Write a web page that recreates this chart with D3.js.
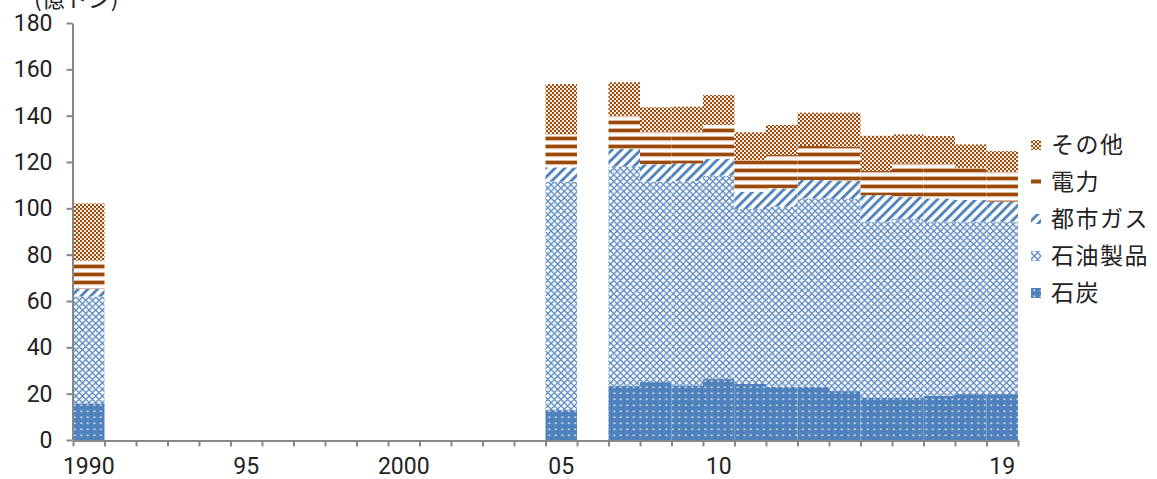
<!DOCTYPE html>
<html><head><meta charset="utf-8">
<script src="https://cdn.jsdelivr.net/npm/d3@7/dist/d3.min.js"></script>
<style>
html,body{margin:0;padding:0;background:#fff;}
svg{display:block;}
.tick text{font-family:Roboto,"Liberation Sans",sans-serif;font-weight:400;font-size:23px;fill:#222;}
.leg text{font-family:"Noto Sans CJK JP",sans-serif;font-size:23px;fill:#222;letter-spacing:1.5px;}
</style></head>
<body>
<svg id="c" width="1157" height="479"></svg>
<script>
// categories (x axis slots)
const categories = d3.range(1990, 2020).map(String);
// years that have data
const dataYears = ["1990","2005","2007","2008","2009","2010","2011","2012","2013","2014","2015","2016","2017","2018","2019"];
// series values (億トン)
const coal  = [15.8,12.9,23.4,25.0,23.6,26.3,24.2,23.0,23.0,21.1,18.3,18.3,19.1,19.8,19.8];
const oil   = [46.1,98.6,94.6,86.5,88.2,87.8,75.5,77.7,81.3,82.9,75.9,77.1,75.1,74.4,74.4];
const gas   = [3.3,6.2,7.6,7.5,7.6,7.2,7.5,7.9,7.9,7.8,11.5,9.6,10.1,9.4,8.7];
const elec  = [12.2,14.2,14.4,14.1,13.7,14.7,13.6,14.4,14.7,14.8,10.4,14.4,14.7,13.9,12.9];
const other = [24.7,21.7,14.4,10.5,10.8,12.9,12.0,13.0,14.4,14.7,15.2,12.5,12.2,10.1,8.9];
const seriesKeys  = ["coal","oil","gas","elec","other"];
const seriesNames = ["石炭","石油製品","都市ガス","電力","その他"];
// tick labels
const yTicks = [0,20,40,60,80,100,120,140,160,180];
const xLabelYears = ["1990","1995","2000","2005","2010","2019"];
const xLabels     = ["1990","95","2000","05","10","19"];
const unitLabel = "(億トン)";

const rows = dataYears.map((yr,i)=>({year:yr, coal:coal[i], oil:oil[i], gas:gas[i], elec:elec[i], other:other[i]}));

const svg = d3.select("#c");
const BLUE = "#4F81BD", BROWN = "#9C4A0C";
const defs = svg.append("defs");

// coal: solid blue with white dots
let p = defs.append("pattern").attr("id","p-coal").attr("patternUnits","userSpaceOnUse").attr("width",6.5).attr("height",6);
p.append("rect").attr("width",6.5).attr("height",6).attr("fill",BLUE);
p.append("rect").attr("x",2.5).attr("y",2.5).attr("width",1.6).attr("height",1.6).attr("fill","#f0f4fa");
// oil: small diamond lattice
p = defs.append("pattern").attr("id","p-oil").attr("patternUnits","userSpaceOnUse").attr("width",6.6).attr("height",6.6);
p.append("rect").attr("width",6.6).attr("height",6.6).attr("fill","#fff");
p.append("path").attr("d","M0,3.3 L3.3,0 L6.6,3.3 L3.3,6.6 Z").attr("fill","none").attr("stroke",BLUE).attr("stroke-width",1.2);
// gas: wide upward diagonal
p = defs.append("pattern").attr("id","p-gas").attr("patternUnits","userSpaceOnUse").attr("width",6.8).attr("height",10).attr("patternTransform","rotate(45)");
p.append("rect").attr("width",6.8).attr("height",10).attr("fill","#fff");
p.append("rect").attr("width",2.8).attr("height",10).attr("fill",BLUE);
// elec: wide horizontal stripes
p = defs.append("pattern").attr("id","p-elec").attr("patternUnits","userSpaceOnUse").attr("width",8).attr("height",8);
p.append("rect").attr("width",8).attr("height",8).attr("fill","#fff");
p.append("rect").attr("y",0).attr("width",8).attr("height",1).attr("fill","#d9b89e");
p.append("rect").attr("y",1).attr("width",8).attr("height",3.4).attr("fill",BROWN);
p.append("rect").attr("y",4.4).attr("width",8).attr("height",0.8).attr("fill","#e2c7b2");
// other: small checkerboard
p = defs.append("pattern").attr("id","p-other").attr("patternUnits","userSpaceOnUse").attr("width",4).attr("height",4);
p.append("rect").attr("width",4).attr("height",4).attr("fill","#f7ece2");
p.append("rect").attr("width",2).attr("height",2).attr("fill",BROWN);
p.append("rect").attr("x",2).attr("y",2).attr("width",2).attr("height",2).attr("fill",BROWN);

const fills = {coal:"url(#p-coal)",oil:"url(#p-oil)",gas:"url(#p-gas)",elec:"url(#p-elec)",other:"url(#p-other)"};

const x = d3.scaleBand().domain(categories).range([73,1018]).padding(0);
const y = d3.scaleLinear().domain([0,180]).range([440,23]);

const stack = d3.stack().keys(seriesKeys)(rows);
svg.append("g").selectAll("g").data(stack).join("g")
  .attr("fill", d=>fills[d.key])
  .selectAll("rect").data(d=>d).join("rect")
  .attr("x", d=>x(d.data.year))
  .attr("width", x.bandwidth())
  .attr("y", d=>y(d[1]))
  .attr("height", d=>y(d[0])-y(d[1]));

// y axis
const ya = svg.append("g").attr("transform","translate(72.5,0)")
  .call(d3.axisLeft(y).tickValues(yTicks).tickSize(6).tickPadding(14).tickSizeOuter(0));
ya.select(".domain").attr("stroke","#888").attr("stroke-width",2);
ya.selectAll(".tick line").attr("stroke","#888").attr("stroke-width",2);

// x axis: boundary ticks
const idx = d3.scaleLinear().domain([0,categories.length]).range([73,1018]);
const xa = svg.append("g").attr("transform","translate(0,440.5)")
  .call(d3.axisBottom(idx).tickValues(d3.range(categories.length+1)).tickFormat("").tickSize(6).tickSizeOuter(0));
xa.select(".domain").attr("stroke","#888").attr("stroke-width",2);
xa.selectAll(".tick line").attr("stroke","#888").attr("stroke-width",2);
// x labels at category centres
const xl = svg.append("g").attr("transform","translate(0,440.5)")
  .call(d3.axisBottom(x).tickValues(xLabelYears).tickFormat((d)=>xLabels[xLabelYears.indexOf(d)]).tickSize(0).tickPadding(17));
xl.select(".domain").remove();

// unit label (partly cut at top, as in the reference)
svg.append("text").attr("x",34).attr("y",7)
  .attr("font-family","'Noto Sans CJK JP',sans-serif").attr("font-size",23).attr("fill","#222")
  .text(unitLabel);

// legend (top to bottom: その他, 電力, 都市ガス, 石油製品, 石炭)
const legOrder = [4,3,2,1,0];
const legY = [145,181.5,219,256,293];
const leg = svg.append("g").attr("class","leg");
legOrder.forEach((si,i)=>{
  const g = leg.append("g").attr("transform",`translate(1031,${legY[i]})`);
  if (seriesKeys[si]==="elec") {
    g.append("rect").attr("x",0).attr("y",-2).attr("width",10).attr("height",4).attr("fill",BROWN);
  } else {
    g.append("rect").attr("x",0).attr("y",-5).attr("width",10).attr("height",10).attr("fill",fills[seriesKeys[si]]);
  }
  g.append("text").attr("x",20).attr("y",0).attr("dy","0.36em").text(seriesNames[si]);
});
</script>
</body></html>
